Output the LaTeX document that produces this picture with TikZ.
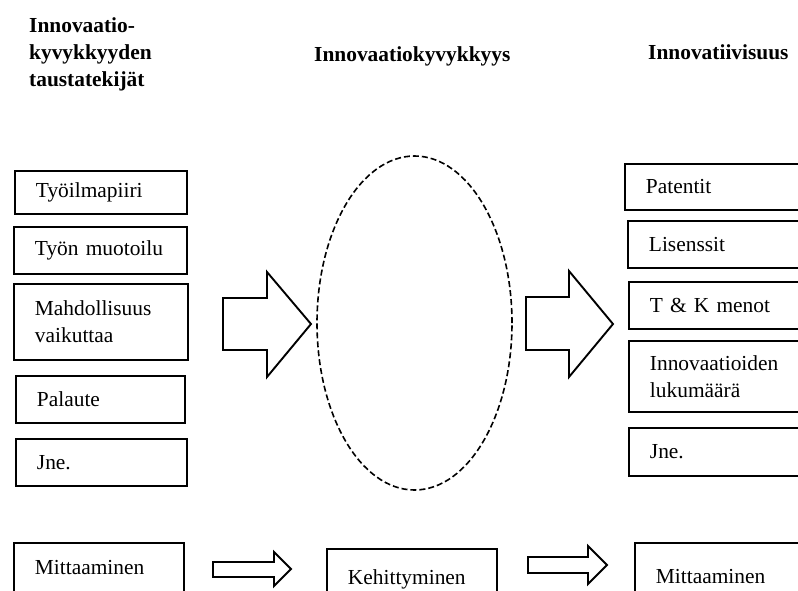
\documentclass[tikz,border=0pt]{standalone}
\usepackage{fontspec}
\setmainfont{Liberation Serif}
\usetikzlibrary{shapes.geometric}
\begin{document}
\begin{tikzpicture}[x=1pt,y=-1pt,
  bx/.style={draw, line width=1.9pt, rectangle, anchor=north west, inner xsep=21pt, inner ysep=0pt, align=left, font=\fontsize{21.4}{27}\selectfont},
  hd/.style={inner sep=0pt, font=\fontsize{21.4}{27}\selectfont\bfseries, align=left},
  barrow/.style={draw, line width=1.9pt, line join=miter, fill=white},
  ell/.style={draw, ellipse, dash pattern=on 6pt off 3pt, line width=1.6pt, inner sep=0pt}]
\clip (0,0) rectangle (798,590);
\useasboundingbox (0,0) rectangle (798,590);
% headers
\node[hd, anchor=north west] (h1) at (29,17.5) {Innovaatio-\\kyvykkyyden\\taustatekijät};
\node[hd, anchor=base west] (h2) at (314,61) {Innovaatiokyvykkyys};
\node[hd, anchor=base west] (h3) at (648,59) {Innovatiivisuus};
% left column
\node[bx, text width=130pt, minimum height=43pt] (l1) at (14,170) {Työilmapiiri};
\node[bx, text width=131pt, minimum height=47pt] (l2) at (13,226) {Työn muotoilu};
\node[bx, text width=132pt, minimum height=76pt] (l3) at (13,283) {Mahdollisuus\\vaikuttaa};
\node[bx, text width=127pt, minimum height=47pt] (l4) at (15,375) {Palaute};
\node[bx, text width=129pt, minimum height=47pt] (l5) at (15,438) {Jne.};
% ellipse
\node[ell, minimum width=195pt, minimum height=334pt] (e) at (414.5,323) {};
% right column
\node[bx, text width=148pt, minimum height=46pt] (r1) at (624,163) {Patentit};
\node[bx, text width=145pt, minimum height=47pt] (r2) at (627,220) {Lisenssit};
\node[bx, text width=144pt, minimum height=47pt] (r3) at (628,281) {T \& K menot};
\node[bx, text width=144pt, minimum height=71pt] (r4) at (628,340) {Innovaatioiden\\lukumäärä};
\node[bx, text width=144pt, minimum height=48pt] (r5) at (628,427) {Jne.};
% big block arrows
\draw[barrow] (223,298) -- (267,298) -- (267,272) -- (311,324) -- (267,377) -- (267,350) -- (223,350) -- cycle;
\draw[barrow] (526,297) -- (569,297) -- (569,271) -- (613,324) -- (569,377) -- (569,350) -- (526,350) -- cycle;
% bottom row
\node[bx, text width=128pt, minimum height=50pt] (b1) at (13,542) {Mittaaminen};
\node[bx, text width=128pt, minimum height=61pt] (b2) at (326,548) {Kehittyminen};
\node[bx, text width=138pt, minimum height=68pt] (b3) at (634,542) {Mittaaminen};
\draw[barrow] (213,562) -- (274,562) -- (274,552) -- (291,569) -- (274,586) -- (274,577) -- (213,577) -- cycle;
\draw[barrow] (528,557) -- (588,557) -- (588,546) -- (607,565) -- (588,584) -- (588,573) -- (528,573) -- cycle;
\end{tikzpicture}
\end{document}
